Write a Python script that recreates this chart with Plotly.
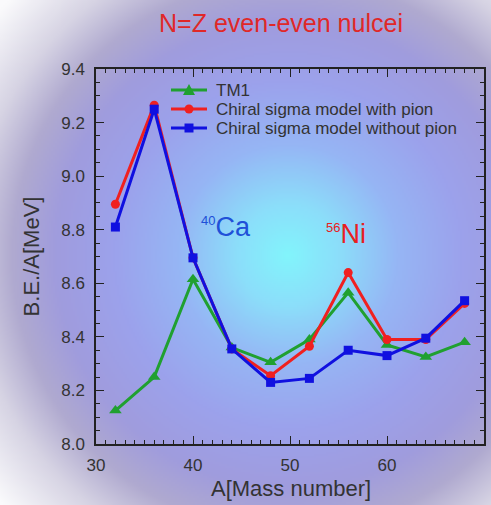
import base64, struct, zlib
import numpy as np
import plotly.graph_objects as go

# ---------------- data ----------------
mass_number = [32, 36, 40, 44, 48, 52, 56, 60, 64, 68]
tm1 = [8.125, 8.25, 8.615, 8.36, 8.305, 8.39, 8.565, 8.37, 8.325, 8.38]
chiral_with_pion = [8.895, 9.265, 8.695, 8.355, 8.255, 8.365, 8.64, 8.39, 8.39, 8.525]
chiral_without_pion = [8.81, 9.25, 8.695, 8.355, 8.23, 8.245, 8.35, 8.33, 8.395, 8.535]
series_names = ["TM1", "Chiral sigma model with pion", "Chiral sigma model without pion"]
series_colors = ["#20a030", "#f02020", "#1010e0"]
x_ticks = [30, 40, 50, 60, 70]
y_ticks = [8.0, 8.2, 8.4, 8.6, 8.8, 9.0, 9.2, 9.4]

W, H = 491, 505
L, R, T, B = 96, 7, 69, 61
pw = W - L - R
ph = H - T - B


def px2paper(px, py):
    return (px - L) / pw, 1 - (py - T) / ph


# ---------------- background radial gradient (PNG) ----------------
def make_bg(w=246, h=253):
    ys, xs = np.mgrid[0:h, 0:w]
    px = (xs + 0.5) * (W / w)
    py = (ys + 0.5) * (H / h)
    d = np.sqrt(((px - 288) / 290.0) ** 2 + ((py - 255) / 290.0) ** 2)
    stops = [0.0, 0.18, 0.38, 0.6, 0.8, 0.95, 1.1, 1.3]
    cols = np.array([
        [130, 245, 252],
        [140, 222, 250],
        [150, 182, 245],
        [156, 162, 236],
        [160, 156, 222],
        [176, 170, 208],
        [215, 212, 228],
        [250, 250, 252],
    ], dtype=float)
    img = np.zeros((h, w, 3))
    for c in range(3):
        img[..., c] = np.interp(d, stops, cols[:, c])
    img = img.clip(0, 255).astype(np.uint8)
    raw = b"".join(b"\x00" + img[r].tobytes() for r in range(h))

    def chunk(tag, data):
        return struct.pack(">I", len(data)) + tag + data + struct.pack(">I", zlib.crc32(tag + data) & 0xffffffff)
    png = b"\x89PNG\r\n\x1a\n" + chunk(b"IHDR", struct.pack(">IIBBBBB", w, h, 8, 2, 0, 0, 0)) \
        + chunk(b"IDAT", zlib.compress(raw, 9)) + chunk(b"IEND", b"")
    return "data:image/png;base64," + base64.b64encode(png).decode()


font = "Liberation Sans, Arial, sans-serif"
fig = go.Figure()
symbols = ["triangle-up", "circle", "square"]
sizes = [11, 9, 9]
for name, vals, col, sym, sz in zip(series_names, [tm1, chiral_with_pion, chiral_without_pion],
                                    series_colors, symbols, sizes):
    fig.add_trace(go.Scatter(x=mass_number, y=vals, name=name, mode="lines+markers",
                             line=dict(color=col, width=3),
                             marker=dict(symbol=sym, size=sz, color=col), showlegend=False))
# invisible trace for mirrored axes
fig.add_trace(go.Scatter(x=[None], y=[None], xaxis="x2", yaxis="y2", showlegend=False, hoverinfo="skip"))

# ---------------- manual legend ----------------
shapes = []
annotations = []
row_y = [90, 109, 128]
for i, (name, col) in enumerate(zip(series_names, series_colors)):
    py = row_y[i]
    x0, y0 = px2paper(171, py)
    x1, _ = px2paper(207, py)
    shapes.append(dict(type="line", xref="paper", yref="paper", x0=x0, x1=x1, y0=y0, y1=y0,
                       line=dict(color=col, width=3)))
    cx = 189
    if i == 0:
        a = px2paper(cx - 6, py + 5)
        b = px2paper(cx + 6, py + 5)
        c = px2paper(cx, py - 6)
        path = f"M{a[0]},{a[1]} L{b[0]},{b[1]} L{c[0]},{c[1]} Z"
        shapes.append(dict(type="path", xref="paper", yref="paper", path=path,
                           fillcolor=col, line=dict(color=col, width=0)))
    elif i == 1:
        a = px2paper(cx - 4.5, py - 4.5)
        b = px2paper(cx + 4.5, py + 4.5)
        shapes.append(dict(type="circle", xref="paper", yref="paper", x0=a[0], y0=b[1], x1=b[0], y1=a[1],
                           fillcolor=col, line=dict(color=col, width=0)))
    else:
        a = px2paper(cx - 4.5, py - 4.5)
        b = px2paper(cx + 4.5, py + 4.5)
        shapes.append(dict(type="rect", xref="paper", yref="paper", x0=a[0], y0=b[1], x1=b[0], y1=a[1],
                           fillcolor=col, line=dict(color=col, width=0)))
    tx, ty = px2paper(214, py)
    annotations.append(dict(x=tx, y=ty, xref="paper", yref="paper", text=name, showarrow=False,
                            xanchor="left", yanchor="middle", font=dict(size=17, color="#333", family=font)))

annotations += [
    dict(x=40.6, y=8.81, text="<sup><span style='font-size:13px'>40</span></sup>Ca", showarrow=False,
         xanchor="left", yanchor="middle", font=dict(color="#2050d8", size=27, family=font)),
    dict(x=53.5, y=8.785, text="<sup><span style='font-size:13px'>56</span></sup>Ni", showarrow=False,
         xanchor="left", yanchor="middle", font=dict(color="#e82020", size=27, family=font)),
]
xt, yt = px2paper(291, 488)
annotations.append(dict(x=xt, y=yt, xref="paper", yref="paper", text="A[Mass number]", showarrow=False,
                        xanchor="center", yanchor="middle", font=dict(size=22, color="#333", family=font)))

fig.update_layout(
    width=W, height=H,
    margin=dict(l=L, r=R, t=T, b=B, autoexpand=False),
    paper_bgcolor="rgba(0,0,0,0)",
    plot_bgcolor="rgba(0,0,0,0)",
    font=dict(family=font, color="#333", size=17),
    title=dict(text="N=Z even-even nulcei", x=281 / W, xanchor="center", y=1 - 23 / H, yanchor="middle",
               font=dict(color="#e02828", size=25, family=font)),
    showlegend=False,
    images=[dict(source=make_bg(), xref="paper", yref="paper",
                 x=-L / pw, y=1 + T / ph, sizex=W / pw, sizey=H / ph,
                 xanchor="left", yanchor="top", sizing="stretch", layer="below")],
    shapes=shapes,
    annotations=annotations,
)

tick_common = dict(ticks="inside", ticklen=8, tickwidth=1.2, tickcolor="#222", showline=True,
                   linecolor="#222", linewidth=1.5, showgrid=False, zeroline=False, automargin=False)
fig.update_layout(
    xaxis=dict(range=[30, 70], tickvals=x_ticks, tickfont=dict(size=17, color="#333"),
               ticklabelstandoff=5,
               minor=dict(dtick=1, ticks="inside", ticklen=4, tickcolor="#222", showgrid=False),
               **tick_common),
    yaxis=dict(range=[8.0, 9.4], tickvals=y_ticks, tickformat=".1f", tickfont=dict(size=17, color="#333"),
               ticklabelstandoff=6,
               title=dict(text="B.E./A[MeV]", font=dict(size=22, color="#333"), standoff=16),
               minor=dict(dtick=0.05, ticks="inside", ticklen=4, tickcolor="#222", showgrid=False),
               **tick_common),
    xaxis2=dict(range=[30, 70], overlaying="x", side="top", tickvals=x_ticks, showticklabels=False,
                minor=dict(dtick=1, ticks="inside", ticklen=4, tickcolor="#222", showgrid=False),
                **tick_common),
    yaxis2=dict(range=[8.0, 9.4], overlaying="y", side="right", tickvals=y_ticks, showticklabels=False,
                minor=dict(dtick=0.05, ticks="inside", ticklen=4, tickcolor="#222", showgrid=False),
                **tick_common),
)

fig.write_html("out.html", default_width="491px", default_height="505px",
               config={"displayModeBar": False},
               post_script="document.body.style.margin='0';document.body.style.overflow='hidden';")
